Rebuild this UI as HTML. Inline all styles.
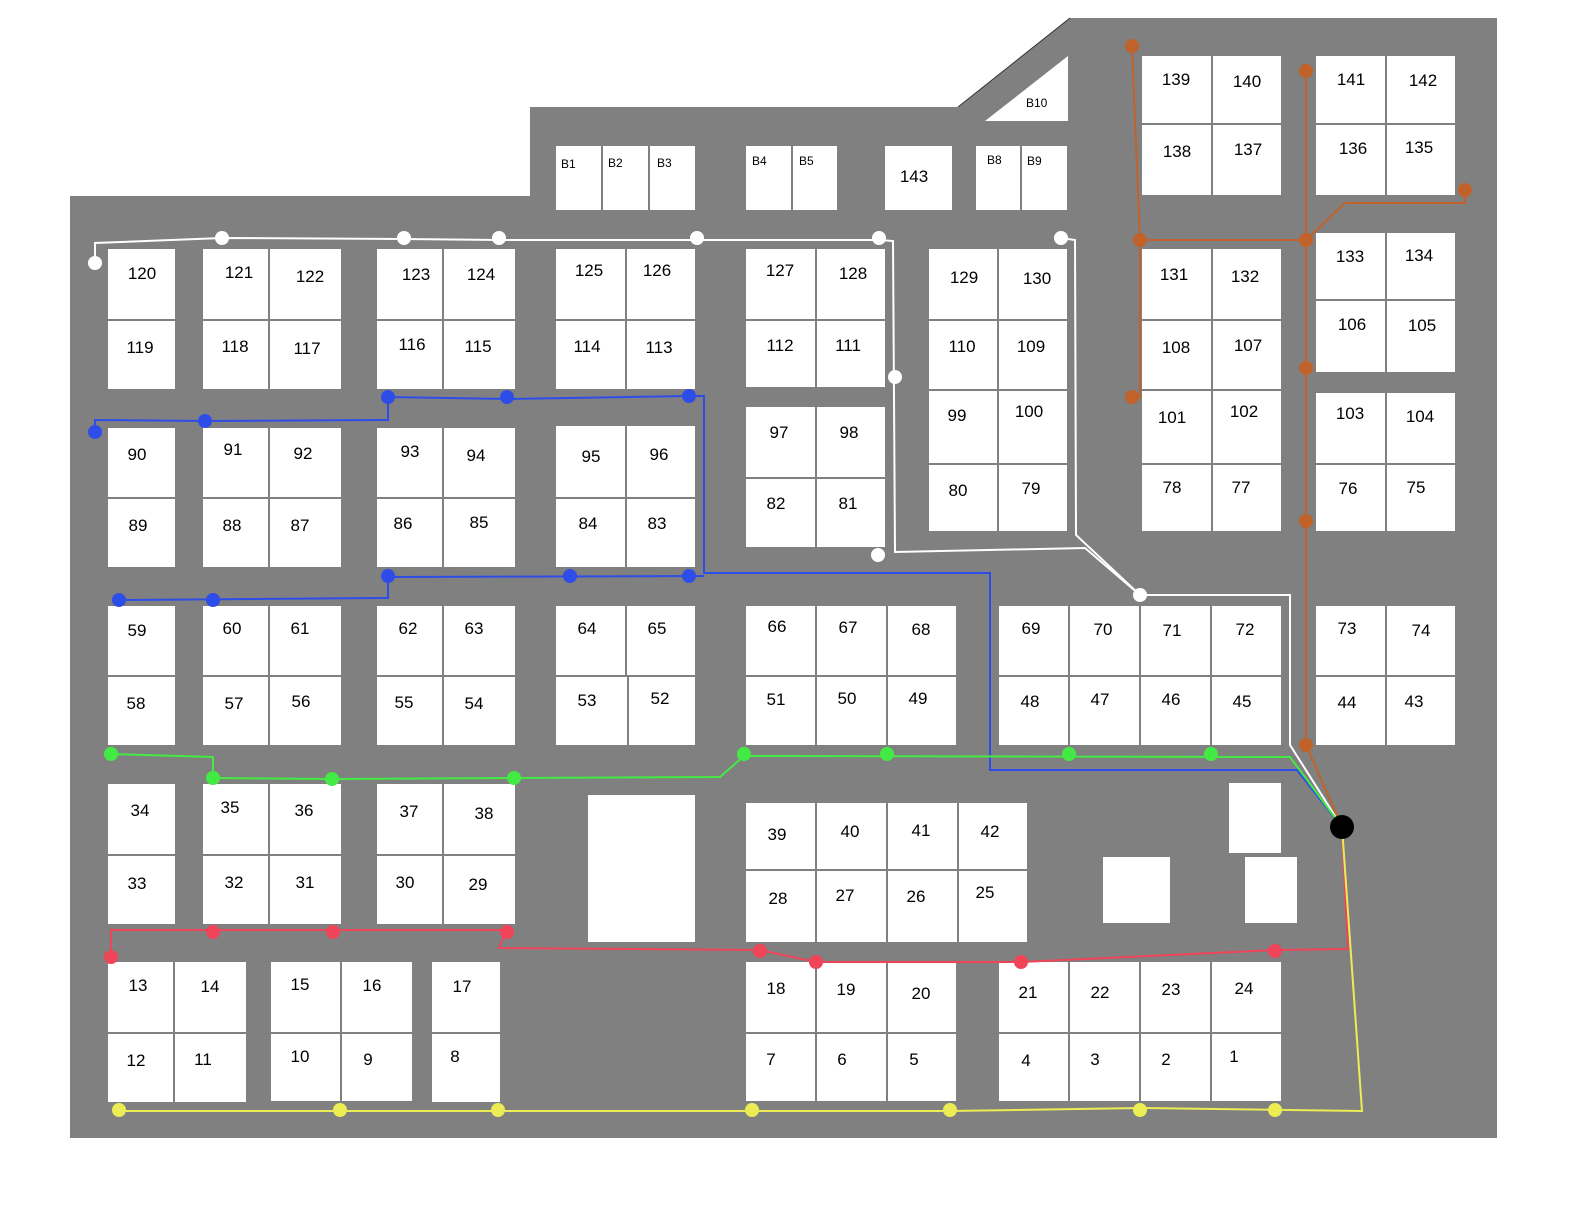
<!DOCTYPE html>
<html><head><meta charset="utf-8"><style>
html,body{margin:0;padding:0;background:#fff;}
svg{display:block}
text{font-family:"Liberation Sans",Arial,sans-serif;font-size:17px;fill:#000;}
.s{font-size:12px}
</style></head><body>
<svg width="1584" height="1224" viewBox="0 0 1584 1224" xmlns="http://www.w3.org/2000/svg">
<polygon points="70,196 530,196 530,107 958,107 1070,18 1497,18 1497,1138 70,1138" fill="#808080"/>
<g fill="#fff" stroke="#808080" stroke-width="2">
<!-- top row -->
<rect x="107" y="248" width="69" height="72"/><rect x="107" y="320" width="69" height="70"/>
<rect x="202" y="248" width="67" height="72"/><rect x="269" y="248" width="73" height="72"/><rect x="202" y="320" width="67" height="70"/><rect x="269" y="320" width="73" height="70"/>
<rect x="376" y="248" width="67" height="72"/><rect x="443" y="248" width="73" height="72"/><rect x="376" y="320" width="67" height="70"/><rect x="443" y="320" width="73" height="70"/>
<rect x="555" y="248" width="71" height="72"/><rect x="626" y="248" width="70" height="72"/><rect x="555" y="320" width="71" height="70"/><rect x="626" y="320" width="70" height="70"/>
<rect x="745" y="248" width="71" height="72"/><rect x="816" y="248" width="70" height="72"/><rect x="745" y="320" width="71" height="68"/><rect x="816" y="320" width="70" height="68"/>
<rect x="928" y="248" width="70" height="72"/><rect x="998" y="248" width="70" height="72"/><rect x="928" y="320" width="70" height="70"/><rect x="998" y="320" width="70" height="70"/>
<rect x="928" y="390" width="70" height="74"/><rect x="998" y="390" width="70" height="74"/><rect x="928" y="464" width="70" height="68"/><rect x="998" y="464" width="70" height="68"/>
<rect x="1141" y="55" width="71" height="69"/><rect x="1212" y="55" width="70" height="69"/><rect x="1141" y="124" width="71" height="72"/><rect x="1212" y="124" width="70" height="72"/>
<rect x="1315" y="55" width="71" height="69"/><rect x="1386" y="55" width="70" height="69"/><rect x="1315" y="124" width="71" height="72"/><rect x="1386" y="124" width="70" height="72"/>
<rect x="1141" y="248" width="71" height="72"/><rect x="1212" y="248" width="70" height="72"/><rect x="1141" y="320" width="71" height="70"/><rect x="1212" y="320" width="70" height="70"/>
<rect x="1141" y="390" width="71" height="74"/><rect x="1212" y="390" width="70" height="74"/><rect x="1141" y="464" width="71" height="68"/><rect x="1212" y="464" width="70" height="68"/>
<rect x="1315" y="232" width="71" height="68"/><rect x="1386" y="232" width="70" height="68"/><rect x="1315" y="300" width="71" height="73"/><rect x="1386" y="300" width="70" height="73"/>
<rect x="1315" y="392" width="71" height="72"/><rect x="1386" y="392" width="70" height="72"/><rect x="1315" y="464" width="71" height="68"/><rect x="1386" y="464" width="70" height="68"/>
<rect x="555" y="145" width="47" height="66"/><rect x="602" y="145" width="47" height="66"/><rect x="649" y="145" width="47" height="66"/>
<rect x="745" y="145" width="47" height="66"/><rect x="792" y="145" width="46" height="66"/>
<rect x="884" y="145" width="69" height="66"/>
<rect x="975" y="145" width="46" height="66"/><rect x="1021" y="145" width="47" height="66"/>
<!-- row 2 -->
<rect x="107" y="427" width="69" height="71"/><rect x="107" y="498" width="69" height="70"/>
<rect x="202" y="427" width="67" height="71"/><rect x="269" y="427" width="73" height="71"/><rect x="202" y="498" width="67" height="70"/><rect x="269" y="498" width="73" height="70"/>
<rect x="376" y="427" width="67" height="71"/><rect x="443" y="427" width="73" height="71"/><rect x="376" y="498" width="67" height="70"/><rect x="443" y="498" width="73" height="70"/>
<rect x="555" y="425" width="71" height="73"/><rect x="626" y="425" width="70" height="73"/><rect x="555" y="498" width="71" height="70"/><rect x="626" y="498" width="70" height="70"/>
<rect x="745" y="406" width="71" height="72"/><rect x="816" y="406" width="70" height="72"/><rect x="745" y="478" width="71" height="70"/><rect x="816" y="478" width="70" height="70"/>
<!-- row 3 -->
<rect x="107" y="605" width="69" height="71"/><rect x="107" y="676" width="69" height="70"/>
<rect x="202" y="605" width="67" height="71"/><rect x="269" y="605" width="73" height="71"/><rect x="202" y="676" width="67" height="70"/><rect x="269" y="676" width="73" height="70"/>
<rect x="376" y="605" width="67" height="71"/><rect x="443" y="605" width="73" height="71"/><rect x="376" y="676" width="67" height="70"/><rect x="443" y="676" width="73" height="70"/>
<rect x="555" y="605" width="71" height="71"/><rect x="626" y="605" width="70" height="71"/><rect x="555" y="676" width="73" height="70"/><rect x="628" y="676" width="68" height="70"/>
<rect x="745" y="605" width="71" height="71"/><rect x="816" y="605" width="71" height="71"/><rect x="887" y="605" width="70" height="71"/>
<rect x="745" y="676" width="71" height="70"/><rect x="816" y="676" width="71" height="70"/><rect x="887" y="676" width="70" height="70"/>
<rect x="998" y="605" width="71" height="71"/><rect x="1069" y="605" width="71" height="71"/><rect x="1140" y="605" width="71" height="71"/><rect x="1211" y="605" width="71" height="71"/>
<rect x="998" y="676" width="71" height="70"/><rect x="1069" y="676" width="71" height="70"/><rect x="1140" y="676" width="71" height="70"/><rect x="1211" y="676" width="71" height="70"/>
<rect x="1315" y="605" width="71" height="71"/><rect x="1386" y="605" width="70" height="71"/><rect x="1315" y="676" width="71" height="70"/><rect x="1386" y="676" width="70" height="70"/>
<!-- row 4 -->
<rect x="107" y="783" width="69" height="72"/><rect x="107" y="855" width="69" height="70"/>
<rect x="202" y="783" width="67" height="72"/><rect x="269" y="783" width="73" height="72"/><rect x="202" y="855" width="67" height="70"/><rect x="269" y="855" width="73" height="70"/>
<rect x="376" y="783" width="67" height="72"/><rect x="443" y="783" width="73" height="72"/><rect x="376" y="855" width="67" height="70"/><rect x="443" y="855" width="73" height="70"/>
<rect x="587" y="794" width="109" height="149"/>
<rect x="745" y="802" width="71" height="68"/><rect x="816" y="802" width="71" height="68"/><rect x="887" y="802" width="71" height="68"/><rect x="958" y="802" width="70" height="68"/>
<rect x="745" y="870" width="71" height="73"/><rect x="816" y="870" width="71" height="73"/><rect x="887" y="870" width="71" height="73"/><rect x="958" y="870" width="70" height="73"/>
<rect x="1228" y="782" width="54" height="72"/><rect x="1102" y="856" width="69" height="68"/><rect x="1244" y="856" width="54" height="68"/>
<!-- row 5 -->
<rect x="107" y="961" width="67" height="72"/><rect x="174" y="961" width="73" height="72"/><rect x="107" y="1033" width="67" height="70"/><rect x="174" y="1033" width="73" height="70"/>
<rect x="270" y="961" width="71" height="72"/><rect x="341" y="961" width="72" height="72"/><rect x="270" y="1033" width="71" height="69"/><rect x="341" y="1033" width="72" height="69"/>
<rect x="431" y="961" width="70" height="72"/><rect x="431" y="1033" width="70" height="70"/>
<rect x="745" y="961" width="71" height="72"/><rect x="816" y="961" width="71" height="72"/><rect x="887" y="961" width="70" height="72"/>
<rect x="745" y="1033" width="71" height="69"/><rect x="816" y="1033" width="71" height="69"/><rect x="887" y="1033" width="70" height="69"/>
<rect x="998" y="961" width="71" height="72"/><rect x="1069" y="961" width="71" height="72"/><rect x="1140" y="961" width="71" height="72"/><rect x="1211" y="961" width="71" height="72"/>
<rect x="998" y="1033" width="71" height="69"/><rect x="1069" y="1033" width="71" height="69"/><rect x="1140" y="1033" width="71" height="69"/><rect x="1211" y="1033" width="71" height="69"/>
</g>
<polygon points="985,121 1068,121 1068,56" fill="#fff"/>
<line x1="958" y1="107" x2="1070" y2="18" stroke="#333" stroke-width="1"/>

<!-- lines -->
<g fill="none" stroke-width="2">
<polyline stroke="#fff" points="95,263 95,243 222,238 404,239 499,240 697,240 879,240 893,241 895,552 1085,548 1140,595 1290,595 1290,745 1342,827"/>
<polyline stroke="#fff" points="1061,238 1075,240 1076,535 1140,595"/>
<polyline stroke="#2e4de8" points="95,432 95,420 205,421 388,420 388,397 507,399 689,396 704,396 704,573 990,573 990,770 1297,770 1342,827"/>
<polyline stroke="#2e4de8" points="119,600 388,598 388,577 704,576"/>
<polyline stroke="#44ea44" points="111,754 213,757 213,778 332,779 514,778 720,777 744,756 1290,757 1342,827"/>
<polyline stroke="#f04458" points="111,957 111,930 507,930 499,948 760,950 816,962 1021,962 1275,950 1348,949 1342,827"/>
<polyline stroke="#ecec55" points="119,1111 950,1111 1140,1108 1362,1111 1342,827"/>
<polyline stroke="#c0622a" points="1132,46 1140,240 1306,240"/>
<polyline stroke="#c0622a" points="1140,240 1140,397 1132,397"/>
<polyline stroke="#c0622a" points="1306,71 1306,745 1342,827"/>
<polyline stroke="#c0622a" points="1306,240 1345,203 1465,203 1465,190"/>
</g>
<g fill="#fff"><circle cx="95" cy="263" r="7"/><circle cx="222" cy="238" r="7"/><circle cx="404" cy="238" r="7"/><circle cx="499" cy="238" r="7"/><circle cx="697" cy="238" r="7"/><circle cx="879" cy="238" r="7"/><circle cx="895" cy="377" r="7"/><circle cx="878" cy="555" r="7"/><circle cx="1061" cy="238" r="7"/><circle cx="1140" cy="595" r="7"/></g>
<g fill="#2e4de8"><circle cx="95" cy="432" r="7"/><circle cx="205" cy="421" r="7"/><circle cx="388" cy="397" r="7"/><circle cx="507" cy="397" r="7"/><circle cx="689" cy="396" r="7"/><circle cx="388" cy="576" r="7"/><circle cx="570" cy="576" r="7"/><circle cx="689" cy="576" r="7"/><circle cx="119" cy="600" r="7"/><circle cx="213" cy="600" r="7"/></g>
<g fill="#44ea44"><circle cx="111" cy="754" r="7"/><circle cx="213" cy="778" r="7"/><circle cx="332" cy="779" r="7"/><circle cx="514" cy="778" r="7"/><circle cx="744" cy="754" r="7"/><circle cx="887" cy="754" r="7"/><circle cx="1069" cy="754" r="7"/><circle cx="1211" cy="754" r="7"/></g>
<g fill="#f04458"><circle cx="111" cy="957" r="7"/><circle cx="213" cy="932" r="7"/><circle cx="333" cy="932" r="7"/><circle cx="507" cy="932" r="7"/><circle cx="760" cy="951" r="7"/><circle cx="816" cy="962" r="7"/><circle cx="1021" cy="962" r="7"/><circle cx="1275" cy="951" r="7"/></g>
<g fill="#ecec55"><circle cx="119" cy="1110" r="7"/><circle cx="340" cy="1110" r="7"/><circle cx="498" cy="1110" r="7"/><circle cx="752" cy="1110" r="7"/><circle cx="950" cy="1110" r="7"/><circle cx="1140" cy="1110" r="7"/><circle cx="1275" cy="1110" r="7"/></g>
<g fill="#c0622a"><circle cx="1132" cy="46" r="7"/><circle cx="1306" cy="71" r="7"/><circle cx="1465" cy="190" r="7"/><circle cx="1140" cy="240" r="7"/><circle cx="1306" cy="240" r="7"/><circle cx="1306" cy="368" r="7"/><circle cx="1132" cy="397" r="7"/><circle cx="1306" cy="521" r="7"/><circle cx="1306" cy="745" r="7"/></g>
<circle cx="1342" cy="827" r="12" fill="#000"/>

<g text-anchor="middle">
<text x="142" y="279">120</text><text x="140" y="353">119</text>
<text x="239" y="278">121</text><text x="310" y="282">122</text><text x="235" y="352">118</text><text x="307" y="354">117</text>
<text x="416" y="280">123</text><text x="481" y="280">124</text><text x="412" y="350">116</text><text x="478" y="352">115</text>
<text x="589" y="276">125</text><text x="657" y="276">126</text><text x="587" y="352">114</text><text x="659" y="353">113</text>
<text x="780" y="276">127</text><text x="853" y="279">128</text><text x="780" y="351">112</text><text x="848" y="351">111</text>
<text x="964" y="283">129</text><text x="1037" y="284">130</text><text x="962" y="352">110</text><text x="1031" y="352">109</text>
<text x="957" y="421">99</text><text x="1029" y="417">100</text><text x="958" y="496">80</text><text x="1031" y="494">79</text>
<text x="1176" y="85">139</text><text x="1247" y="87">140</text><text x="1177" y="157">138</text><text x="1248" y="155">137</text>
<text x="1351" y="85">141</text><text x="1423" y="86">142</text><text x="1353" y="154">136</text><text x="1419" y="153">135</text>
<text x="1174" y="280">131</text><text x="1245" y="282">132</text><text x="1176" y="353">108</text><text x="1248" y="351">107</text>
<text x="1172" y="423">101</text><text x="1244" y="417">102</text><text x="1172" y="493">78</text><text x="1241" y="493">77</text>
<text x="1350" y="262">133</text><text x="1419" y="261">134</text><text x="1352" y="330">106</text><text x="1422" y="331">105</text>
<text x="1350" y="419">103</text><text x="1420" y="422">104</text><text x="1348" y="494">76</text><text x="1416" y="493">75</text>
<text x="914" y="182">143</text>
<text x="137" y="460">90</text><text x="233" y="455">91</text><text x="303" y="459">92</text><text x="138" y="531">89</text><text x="232" y="531">88</text><text x="300" y="531">87</text>
<text x="410" y="457">93</text><text x="476" y="461">94</text><text x="403" y="529">86</text><text x="479" y="528">85</text>
<text x="591" y="462">95</text><text x="659" y="460">96</text><text x="588" y="529">84</text><text x="657" y="529">83</text>
<text x="779" y="438">97</text><text x="849" y="438">98</text><text x="776" y="509">82</text><text x="848" y="509">81</text>
<text x="137" y="636">59</text><text x="232" y="634">60</text><text x="300" y="634">61</text><text x="136" y="709">58</text><text x="234" y="709">57</text><text x="301" y="707">56</text>
<text x="408" y="634">62</text><text x="474" y="634">63</text><text x="404" y="708">55</text><text x="474" y="709">54</text>
<text x="587" y="634">64</text><text x="657" y="634">65</text><text x="587" y="706">53</text><text x="660" y="704">52</text>
<text x="777" y="632">66</text><text x="848" y="633">67</text><text x="921" y="635">68</text><text x="776" y="705">51</text><text x="847" y="704">50</text><text x="918" y="704">49</text>
<text x="1031" y="634">69</text><text x="1103" y="635">70</text><text x="1172" y="636">71</text><text x="1245" y="635">72</text>
<text x="1030" y="707">48</text><text x="1100" y="705">47</text><text x="1171" y="705">46</text><text x="1242" y="707">45</text>
<text x="1347" y="634">73</text><text x="1421" y="636">74</text><text x="1347" y="708">44</text><text x="1414" y="707">43</text>
<text x="140" y="816">34</text><text x="230" y="813">35</text><text x="304" y="816">36</text><text x="137" y="889">33</text><text x="234" y="888">32</text><text x="305" y="888">31</text>
<text x="409" y="817">37</text><text x="484" y="819">38</text><text x="405" y="888">30</text><text x="478" y="890">29</text>
<text x="777" y="840">39</text><text x="850" y="837">40</text><text x="921" y="836">41</text><text x="990" y="837">42</text>
<text x="778" y="904">28</text><text x="845" y="901">27</text><text x="916" y="902">26</text><text x="985" y="898">25</text>
<text x="138" y="991">13</text><text x="210" y="992">14</text><text x="300" y="990">15</text><text x="372" y="991">16</text><text x="462" y="992">17</text>
<text x="136" y="1066">12</text><text x="203" y="1065">11</text><text x="300" y="1062">10</text><text x="368" y="1065">9</text><text x="455" y="1062">8</text>
<text x="776" y="994">18</text><text x="846" y="995">19</text><text x="921" y="999">20</text><text x="771" y="1065">7</text><text x="842" y="1065">6</text><text x="914" y="1065">5</text>
<text x="1028" y="998">21</text><text x="1100" y="998">22</text><text x="1171" y="995">23</text><text x="1244" y="994">24</text>
<text x="1026" y="1066">4</text><text x="1095" y="1065">3</text><text x="1166" y="1065">2</text><text x="1234" y="1062">1</text>
</g>
<g class="s">
<text class="s" x="561" y="168">B1</text><text class="s" x="608" y="167">B2</text><text class="s" x="657" y="167">B3</text>
<text class="s" x="752" y="165">B4</text><text class="s" x="799" y="165">B5</text>
<text class="s" x="987" y="164">B8</text><text class="s" x="1027" y="165">B9</text>
<text class="s" x="1026" y="107">B10</text>
</g>
</svg>
</body></html>
